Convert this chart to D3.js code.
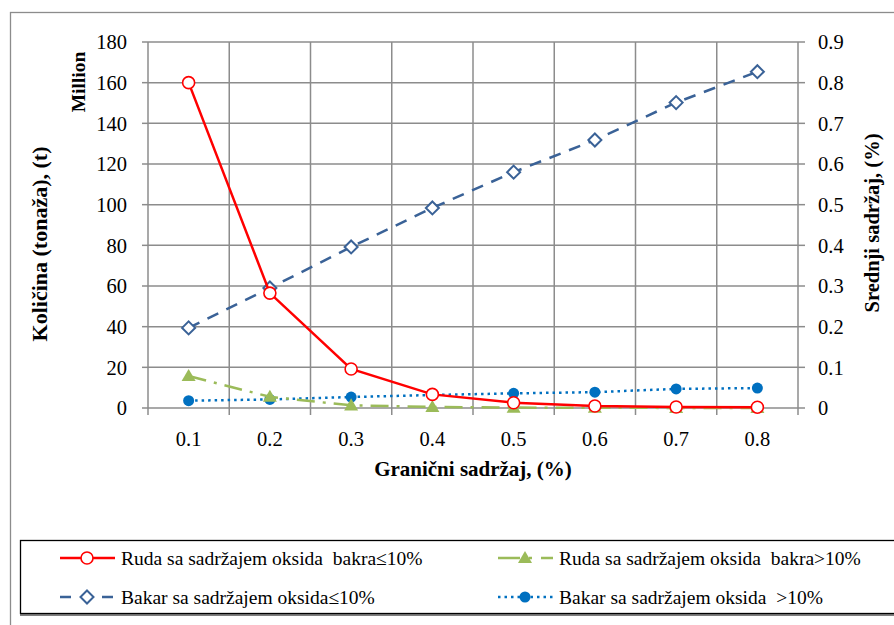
<!DOCTYPE html>
<html><head><meta charset="utf-8">
<script src="https://cdn.jsdelivr.net/npm/d3@7"></script>
<style>body{margin:0;background:#fff}svg{display:block}text{font-family:"Liberation Serif","DejaVu Serif",serif;fill:#000;white-space:pre}</style>
</head><body>
<script>
const categories = ["0.1","0.2","0.3","0.4","0.5","0.6","0.7","0.8"];
const rudaLow = [160, 56.5, 19.2, 6.7, 2.6, 1.0, 0.5, 0.4];
const rudaHigh = [15.7, 5.5, 1.3, 0.5, 0.2, 0.1, 0.05, 0.05];
const bakarLow = [0.197, 0.295, 0.396, 0.492, 0.58, 0.659, 0.751, 0.827];
const bakarHigh = [0.018, 0.021, 0.027, 0.032, 0.036, 0.039, 0.047, 0.049];
const leftTicks = [0,20,40,60,80,100,120,140,160,180];
const rightTicks = [0,0.1,0.2,0.3,0.4,0.5,0.6,0.7,0.8,0.9];
const legendLabels = ["Ruda sa sadržajem oksida  bakra≤10%","Ruda sa sadržajem oksida  bakra>10%","Bakar sa sadržajem oksida≤10%","Bakar sa sadržajem oksida  >10%"];

const W=894,H=625;
const svg=d3.select("body").append("svg").attr("width",W).attr("height",H);
const L=148,R=798,T=42,B=408;
const x=d3.scaleBand().domain(categories).range([L,R]);
const yL=d3.scaleLinear().domain([0,180]).range([B,T]);
const yR=d3.scaleLinear().domain([0,0.9]).range([B,T]);
const grid="#8c8c8c";

svg.append("rect").attr("x",10.5).attr("y",12.5).attr("width",W).attr("height",H).attr("fill","none").attr("stroke","#8c8c8c").attr("stroke-width",1.3);

const g=svg.append("g");
g.selectAll("line.h").data(leftTicks).join("line").attr("x1",L).attr("x2",R).attr("y1",d=>yL(d)).attr("y2",d=>yL(d)).attr("stroke",grid).attr("stroke-width",1.5);
const bounds=categories.map(c=>x(c)).concat([R]);
g.selectAll("line.v").data(bounds).join("line").attr("x1",d=>d).attr("x2",d=>d).attr("y1",T).attr("y2",B+7).attr("stroke",grid).attr("stroke-width",1.5);
g.selectAll("line.lt").data(leftTicks).join("line").attr("x1",L-6).attr("x2",L).attr("y1",d=>yL(d)).attr("y2",d=>yL(d)).attr("stroke",grid).attr("stroke-width",1.5);
g.selectAll("line.rt").data(rightTicks).join("line").attr("x1",R).attr("x2",R+7).attr("y1",d=>yR(d)).attr("y2",d=>yR(d)).attr("stroke",grid).attr("stroke-width",1.5);

const fs=20.5;
svg.selectAll("text.lt").data(leftTicks).join("text").attr("x",L-21).attr("y",d=>yL(d)).attr("dy","0.35em").attr("text-anchor","end").attr("font-size",fs).text(d=>d);
svg.selectAll("text.rt").data(rightTicks).join("text").attr("x",R+20).attr("y",d=>yR(d)).attr("dy","0.35em").attr("text-anchor","start").attr("font-size",fs).text(d=>d);
svg.selectAll("text.xt").data(categories).join("text").attr("x",d=>x(d)+x.bandwidth()/2).attr("y",439).attr("dy","0.35em").attr("text-anchor","middle").attr("font-size",fs).text(d=>d);

svg.append("text").attr("transform","translate(47,244) rotate(-90)").attr("text-anchor","middle").attr("font-size",22).attr("font-weight","bold").text("Količina (tonaža), (t)");
svg.append("text").attr("transform","translate(85,82) rotate(-90)").attr("text-anchor","middle").attr("font-size",19.5).attr("font-weight","bold").text("Million");
svg.append("text").attr("transform","translate(879,223) rotate(-90)").attr("text-anchor","middle").attr("font-size",20.5).attr("font-weight","bold").text("Srednji sadržaj, (%)");
svg.append("text").attr("x",473).attr("y",476).attr("text-anchor","middle").attr("font-size",21).attr("font-weight","bold").text("Granični sadržaj, (%)");

const cx=d=>x(d)+x.bandwidth()/2;
const series=[
 {vals:rudaLow,y:yL,color:"#FF0000",dash:null,w:2.5,marker:"circle"},
 {vals:rudaHigh,y:yL,color:"#9BBB59",dash:"18,8,3,8",w:2.5,marker:"triangle"},
 {vals:bakarLow,y:yR,color:"#3A6297",dash:"12,9",w:2.5,marker:"diamond"},
 {vals:bakarHigh,y:yR,color:"#0070C0",dash:"2.5,4",w:2.5,marker:"dot"}
];
function drawMarker(sel,m,color,px,py){
  if(m==="circle") sel.append("circle").attr("cx",px).attr("cy",py).attr("r",6).attr("fill","#fff").attr("stroke",color).attr("stroke-width",1.6);
  else if(m==="triangle") sel.append("path").attr("d",d3.symbol(d3.symbolTriangle,85)()).attr("transform",`translate(${px},${py+1})`).attr("fill",color);
  else if(m==="diamond") sel.append("path").attr("d",`M0,-6.5L6.5,0L0,6.5L-6.5,0Z`).attr("transform",`translate(${px},${py})`).attr("fill","#fff").attr("stroke",color).attr("stroke-width",2);
  else sel.append("circle").attr("cx",px).attr("cy",py).attr("r",5.5).attr("fill",color);
}
const order=[2,3,1,0];
order.forEach(i=>{
  const s=series[i];
  const line=d3.line().x((d,j)=>cx(categories[j])).y(d=>s.y(d));
  svg.append("path").attr("d",line(s.vals)).attr("fill","none").attr("stroke",s.color).attr("stroke-width",s.w).attr("stroke-dasharray",s.dash);
  const mg=svg.append("g");
  s.vals.forEach((v,j)=>drawMarker(mg,s.marker,s.color,cx(categories[j]),s.y(v)));
});

svg.append("rect").attr("x",20.5).attr("y",540.5).attr("width",900).attr("height",73).attr("fill","#fff").attr("stroke","#000").attr("stroke-width",1.3);
svg.append("line").attr("x1",20).attr("x2",W).attr("y1",615).attr("y2",615).attr("stroke","#000").attr("stroke-width",1);
const legPos=[[60,558],[498,558],[60,597],[498,597]];
[0,1,2,3].forEach((i,k)=>{
  const s=series[i];const [lx,ly]=legPos[k];
  const lg=svg.append("g");
  let dash=s.dash;
  if(i===1) dash="22,9,3,9";
  if(i===2) dash="11,10";
  lg.append("line").attr("x1",lx).attr("x2",lx+55).attr("y1",ly).attr("y2",ly).attr("stroke",s.color).attr("stroke-width",s.w).attr("stroke-dasharray",dash);
  drawMarker(lg,s.marker,s.color,lx+27,ly);
  lg.append("text").attr("x",lx+61).attr("y",ly).attr("dy","0.35em").attr("font-size",19.5).text(legendLabels[i]);
});
</script>
</body></html>
